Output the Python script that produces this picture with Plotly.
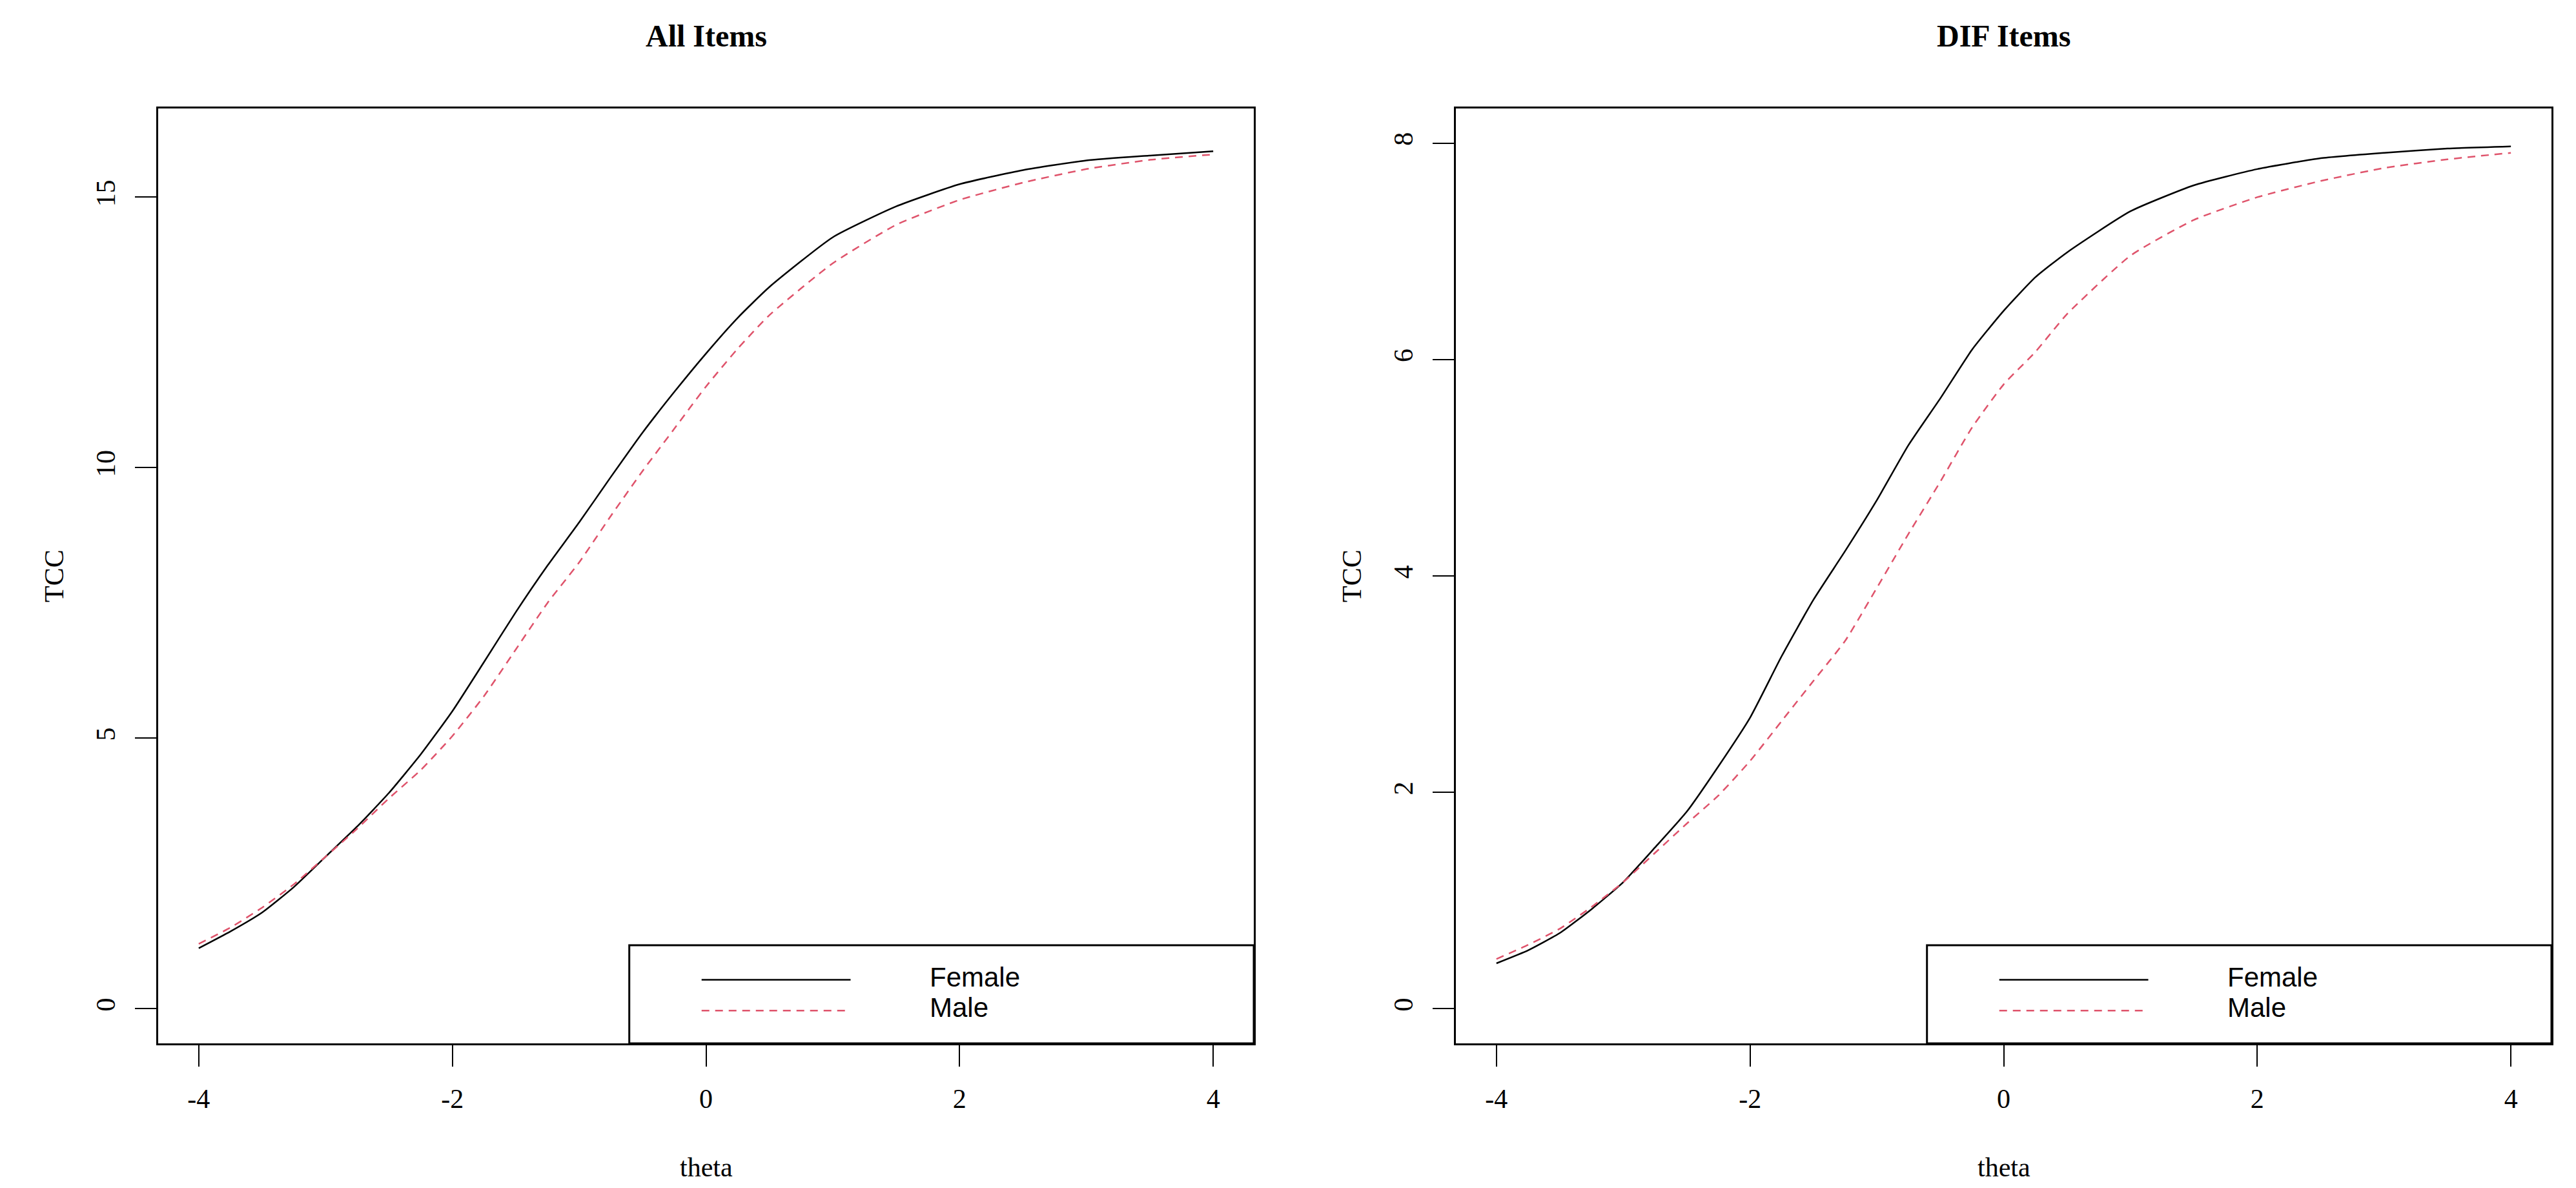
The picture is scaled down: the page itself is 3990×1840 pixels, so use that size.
import plotly.graph_objects as go

# theta grid shared by both panels
theta = [-4, -3.75, -3.5, -3.25, -3, -2.75, -2.5, -2.25, -2, -1.75, -1.5, -1.25, -1,
         -0.75, -0.5, -0.25, 0, 0.25, 0.5, 1, 1.5, 2, 2.5, 3, 3.5, 4]

# All Items: test characteristic curves
all_female = [1.12, 1.43, 1.78, 2.25, 2.81, 3.37, 3.99, 4.70, 5.50, 6.41, 7.33, 8.19, 8.99,
              9.83, 10.65, 11.40, 12.11, 12.77, 13.34, 14.26, 14.83, 15.24, 15.50, 15.68,
              15.77, 15.85]
all_male = [1.20, 1.50, 1.87, 2.30, 2.81, 3.33, 3.89, 4.41, 5.04, 5.78, 6.64, 7.50, 8.25,
            9.11, 9.94, 10.72, 11.50, 12.20, 12.82, 13.78, 14.49, 14.95, 15.27, 15.52,
            15.69, 15.79]

# DIF Items
dif_female = [0.42, 0.54, 0.70, 0.92, 1.17, 1.49, 1.82, 2.24, 2.69, 3.26, 3.78, 4.23, 4.70,
              5.21, 5.64, 6.09, 6.45, 6.76, 6.99, 7.37, 7.61, 7.76, 7.86, 7.91, 7.95, 7.97]
dif_male = [0.46, 0.59, 0.74, 0.94, 1.17, 1.44, 1.71, 1.97, 2.29, 2.66, 3.03, 3.40, 3.89,
            4.39, 4.87, 5.37, 5.77, 6.07, 6.42, 6.96, 7.29, 7.50, 7.65, 7.77, 7.85, 7.91]

panel_titles = ["All Items", "DIF Items"]
legend_labels = ["Female", "Male"]
x_ticks = [-4, -2, 0, 2, 4]
x_tick_text = ["-4", "-2", "0", "2", "4"]
y_ticks_all = [0, 5, 10, 15]
y_ticks_dif = [0, 2, 4, 6, 8]

W, H = 3990, 1840
SERIF = "Liberation Serif, Times New Roman, serif"
SANS = "Liberation Sans, Arial, sans-serif"
FEMALE_COL = "black"
MALE_COL = "#DF536B"
MALE_DASH = "12px,9px"

# panel boxes in pixels
left_px = [(237, 1934), (2247, 3944)]
top_px, bottom_px = 160, 1608


def fx(px):
    return px / W


def fy(py):
    return 1 - py / H


fig = go.Figure()

panels = [
    (all_female, all_male, y_ticks_all, [-0.64, 16.64], "x", "y"),
    (dif_female, dif_male, y_ticks_dif, [-0.32, 8.32], "x2", "y2"),
]

for i, (fem, mal, yt, yr, xa, ya) in enumerate(panels):
    fig.add_trace(go.Scatter(x=theta, y=fem, mode="lines", name=legend_labels[0],
                             line=dict(color=FEMALE_COL, width=2.5, shape="spline", smoothing=0.5),
                             xaxis=xa, yaxis=ya, showlegend=False))
    fig.add_trace(go.Scatter(x=theta, y=mal, mode="lines", name=legend_labels[1],
                             line=dict(color=MALE_COL, width=2.5, dash=MALE_DASH,
                                       shape="spline", smoothing=0.5),
                             xaxis=xa, yaxis=ya, showlegend=False))

    x0, x1 = left_px[i]
    sfx = "" if i == 0 else "2"
    axis_common = dict(showline=True, linecolor="black", linewidth=3, mirror=True,
                       ticks="outside", ticklen=33, tickwidth=2, tickcolor="black",
                       showgrid=False, zeroline=False,
                       tickfont=dict(family=SERIF, size=42, color="black"))
    fig.update_layout(**{
        "xaxis" + sfx: dict(domain=[fx(x0), fx(x1)], range=[-4.32, 4.32], tickvals=x_ticks,
                            ticktext=x_tick_text, anchor="y" + sfx, ticklabelstandoff=14,
                            **axis_common),
        "yaxis" + sfx: dict(domain=[fy(bottom_px), fy(top_px)], range=yr, tickvals=yt,
                            anchor="x" + sfx, tickangle=-90, ticklabelstandoff=14,
                            **axis_common),
    })

    cx = fx((x0 + x1) / 2)
    # panel title
    fig.add_annotation(text="<b>%s</b>" % panel_titles[i], x=cx, y=fy(48), xref="paper",
                       yref="paper", xanchor="center", yanchor="middle", showarrow=False,
                       font=dict(family=SERIF, size=48, color="black"))
    # axis titles
    fig.add_annotation(text="theta", x=cx, y=fy(1800), xref="paper", yref="paper",
                       xanchor="center", yanchor="middle", showarrow=False,
                       font=dict(family=SERIF, size=42, color="black"))
    fig.add_annotation(text="TCC", x=fx(x0 - 161), y=fy((top_px + bottom_px) / 2),
                       xref="paper", yref="paper", xanchor="center", yanchor="middle",
                       showarrow=False, textangle=-90,
                       font=dict(family=SERIF, size=42, color="black"))

    # legend box (bottom right, as in the R plot)
    xd, yd = "x%s domain" % sfx, "y%s domain" % sfx
    fig.add_shape(type="rect", xref=xd, yref=yd, x0=0.43, x1=1.0, y0=0.0, y1=0.105,
                  line=dict(color="black", width=3), fillcolor="white", layer="above")
    for lab, ly, col, dash in [(legend_labels[0], 0.068, FEMALE_COL, "solid"),
                               (legend_labels[1], 0.035, MALE_COL, MALE_DASH)]:
        fig.add_shape(type="line", xref=xd, yref=yd, x0=0.496, x1=0.632, y0=ly, y1=ly,
                      line=dict(color=col, width=2.5, dash=dash), layer="above")
        fig.add_annotation(text=lab, xref=xd, yref=yd, x=0.703, y=ly + 0.003,
                           xanchor="left", yanchor="middle", showarrow=False,
                           font=dict(family=SANS, size=42, color="black"))

fig.update_layout(width=W, height=H, margin=dict(l=0, r=0, t=0, b=0),
                  paper_bgcolor="white", plot_bgcolor="white", showlegend=False)

fig.write_html("out.html")
